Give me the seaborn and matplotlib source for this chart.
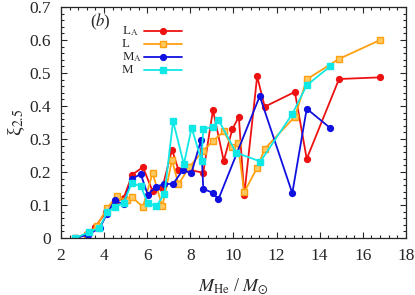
import numpy as np
import pandas as pd
import matplotlib
matplotlib.use("Agg")
import matplotlib.pyplot as plt
import seaborn as sns
from matplotlib.ticker import MultipleLocator

# L_A (red, circles)
la_x = [2.65, 3.2, 3.6, 4.1, 4.5, 4.9, 5.3, 5.8, 6.25, 6.7, 7.15, 7.45, 8.0, 8.6,
        9.05, 9.55, 9.95, 10.25, 10.5, 11.1, 11.45, 12.85, 13.4, 14.9, 16.8]
la_y = [0.0, 0.012, 0.035, 0.08, 0.11, 0.12, 0.192, 0.215, 0.142, 0.152, 0.268,
        0.206, 0.206, 0.198, 0.388, 0.234, 0.33, 0.368, 0.13, 0.49, 0.398,
        0.443, 0.24, 0.482, 0.487]

# L (orange, squares)
l_x = [2.65, 3.2, 3.65, 4.15, 4.58, 5.05, 5.3, 5.8, 6.25, 6.7, 7.15, 7.45, 7.95,
       8.6, 9.05, 9.55, 9.95, 10.2, 10.5, 11.1, 11.45, 12.85, 13.4, 14.9, 16.8]
l_y = [0.0, 0.01, 0.036, 0.092, 0.126, 0.114, 0.124, 0.094, 0.197, 0.096, 0.236,
       0.163, 0.215, 0.265, 0.294, 0.323, 0.276, 0.288, 0.139, 0.213, 0.27,
       0.368, 0.481, 0.543, 0.6]

# M_A (blue, circles)
ma_x = [2.65, 3.25, 3.8, 4.12, 4.5, 4.9, 5.28, 5.7, 6.02, 6.42, 6.8, 7.2, 7.65,
        8.05, 8.5, 8.6, 9.05, 9.3, 11.22, 12.73, 13.4, 14.5]
ma_y = [0.0, 0.01, 0.031, 0.072, 0.114, 0.102, 0.179, 0.194, 0.132, 0.156, 0.164,
        0.164, 0.206, 0.197, 0.298, 0.149, 0.137, 0.117, 0.43, 0.136, 0.392, 0.333]

# M (cyan, squares)
m_x = [2.65, 3.3, 3.78, 4.15, 4.5, 4.9, 5.28, 5.7, 6.02, 6.42, 6.8, 7.2, 7.7,
       8.06, 8.52, 8.6, 9.05, 9.3, 10.12, 11.25, 12.73, 13.4, 14.5]
m_y = [0.0, 0.018, 0.031, 0.08, 0.093, 0.107, 0.166, 0.157, 0.107, 0.096, 0.134,
       0.354, 0.224, 0.334, 0.234, 0.331, 0.336, 0.359, 0.259, 0.232, 0.376,
       0.463, 0.521]

labels = ["L$_{\\rm A}$", "L", "M$_{\\rm A}$", "M"]

sns.set_style("ticks")
plt.rcParams["font.family"] = ["Liberation Serif", "DejaVu Serif"]
plt.rcParams["mathtext.fontset"] = "stix"
plt.rcParams["xtick.direction"] = "in"
plt.rcParams["ytick.direction"] = "in"

fig = plt.figure(figsize=(4.15, 2.95), dpi=100)
ax = fig.add_axes([0.147, 0.193, 0.831, 0.783])

series = [
    (la_x, la_y, "#ee1111", "o", "#ee1111"),
    (l_x, l_y, "#ffa010", "s", "#ffc860"),
    (ma_x, ma_y, "#1010e0", "o", "#1010e0"),
    (m_x, m_y, "#10e8e8", "s", "#10e8e8"),
]

for lab, (xs, ys, col, mk, fc) in zip(labels, series):
    df = pd.DataFrame({"x": xs, "y": ys})
    sns.lineplot(data=df, x="x", y="y", ax=ax, sort=False, estimator=None,
                 color=col, marker=mk, markersize=4.2, markerfacecolor=fc,
                 markeredgecolor=col, markeredgewidth=1.0, linewidth=1.3,
                 label=lab)

ax.set_xlim(2, 18)
ax.set_ylim(0, 0.7)
ax.xaxis.set_major_locator(MultipleLocator(2))
ax.xaxis.set_minor_locator(MultipleLocator(0.4))
ax.yaxis.set_major_locator(MultipleLocator(0.1))
ax.yaxis.set_minor_locator(MultipleLocator(0.02))
ax.set_yticklabels(["0" if v == 0 else f"{v:.1f}" for v in ax.get_yticks()])
ax.tick_params(which="both", top=True, right=True, labelsize=12.5, width=0.8)
ax.tick_params(axis="y", which="major", pad=7)
ax.tick_params(axis="x", which="major", pad=7)
ax.tick_params(which="major", length=4.5)
ax.tick_params(which="minor", length=2.5)
for sp in ax.spines.values():
    sp.set_linewidth(0.9)

ax.set_xlabel("$M_{\\rm He}$ / $M_{\\odot}$", fontsize=13, labelpad=9)
ax.set_ylabel("ξ$_{2.5}$", fontsize=14, labelpad=2)

ax.text(0.085, 0.915, "($b$)", transform=ax.transAxes, fontsize=12)

# gnuplot-style key: left-aligned labels, line samples in a column to the right
handles, _ = ax.get_legend_handles_labels()
leg = ax.legend(handles, [" "] * len(handles), loc="upper right",
                bbox_to_anchor=(0.351, 0.918), frameon=False, markerfirst=False,
                numpoints=1, fontsize=10, labelspacing=0.0, handlelength=2.75,
                handletextpad=0.0, borderaxespad=0, borderpad=0)
fig.canvas.draw()
for h, lab in zip(leg.legend_handles, labels):
    pts = h.get_transform().transform(h.get_xydata())
    yc = pts[:, 1].mean()
    fig.text(122 / 415, (yc - 3.2) / 295, lab, fontsize=9.3, ha="left",
             va="baseline")

fig.savefig("out.png", dpi=100)
